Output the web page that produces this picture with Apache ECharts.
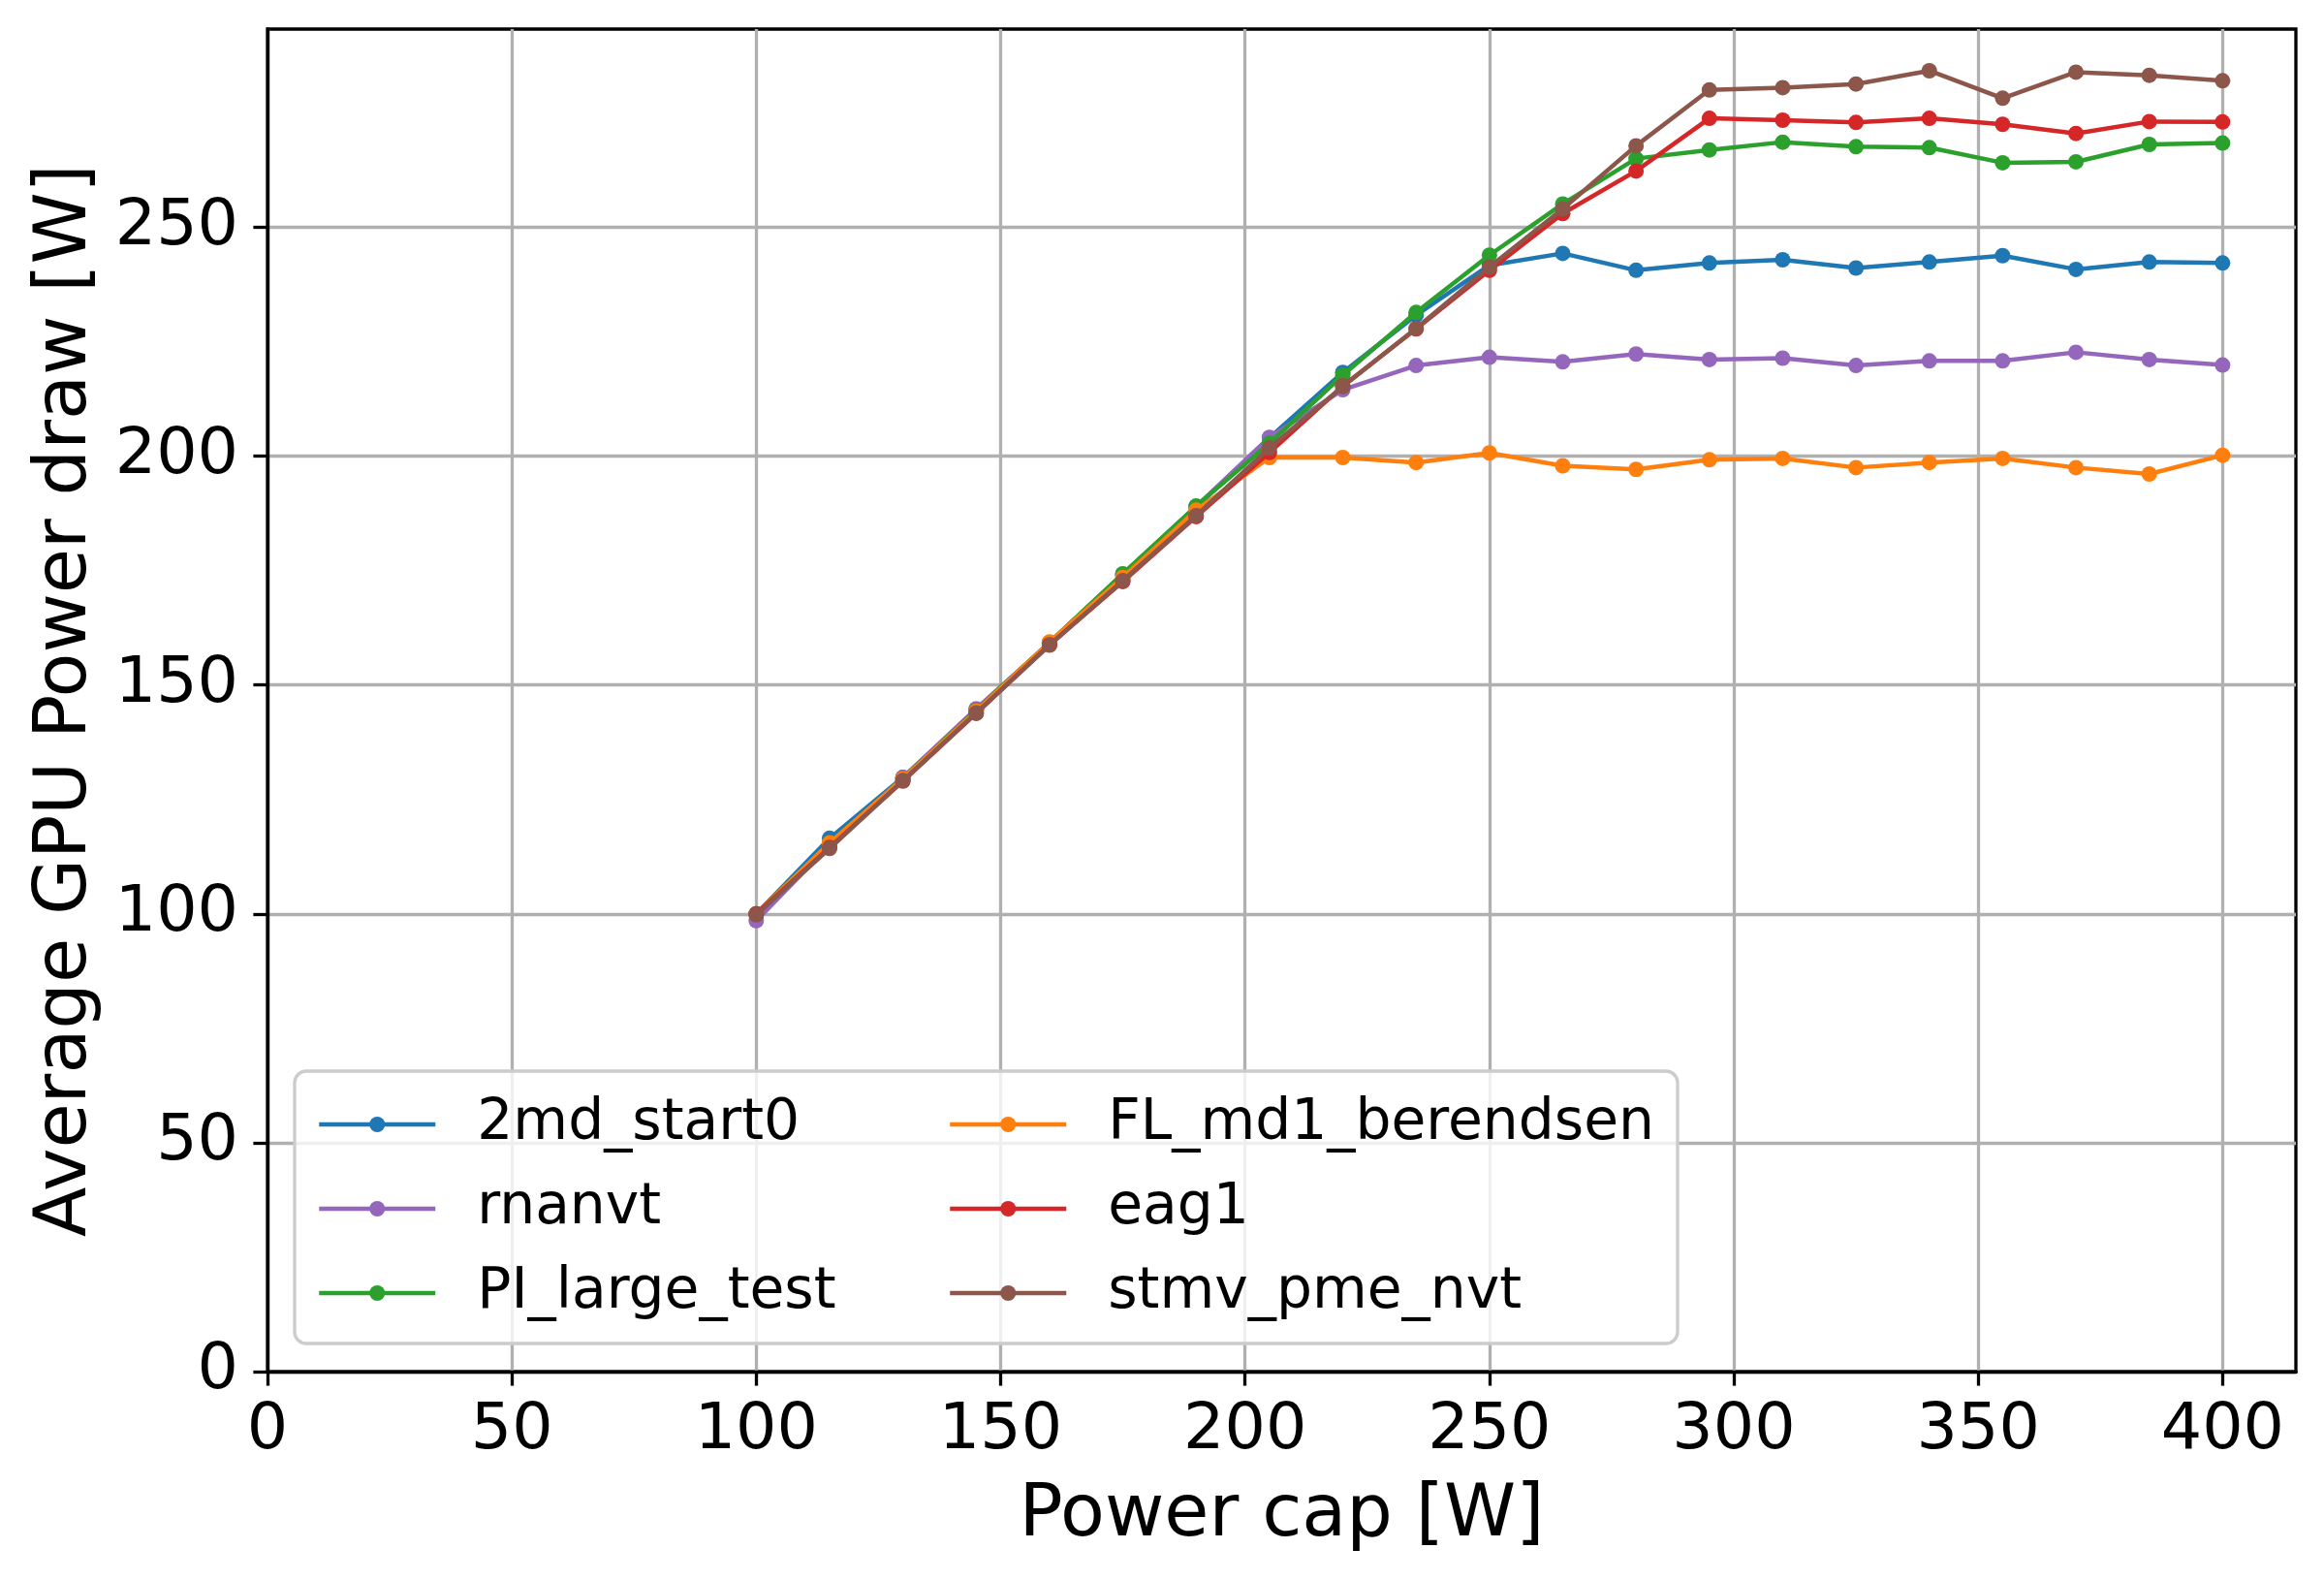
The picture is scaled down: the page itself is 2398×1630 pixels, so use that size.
<!DOCTYPE html>
<html>
<head>
<meta charset="utf-8">
<script src="https://cdn.jsdelivr.net/npm/echarts@6/dist/echarts.min.js"></script>
<style>
html, body { margin: 0; padding: 0; background: #ffffff; }
#chart { width: 2398px; height: 1630px; }
</style>
</head>
<body>
<div id="chart"></div>
<script>
// ---- data ----
const powerCap = [100, 115, 130, 145, 160, 175, 190, 205, 220, 235, 250, 265, 280, 295, 310, 325, 340, 355, 370, 385, 400];

const seriesNames = ['2md_start0', 'rnanvt', 'PI_large_test', 'FL_md1_berendsen', 'eag1', 'stmv_pme_nvt'];

const md2_start0 = [100.0, 116.5, 129.8, 144.6, 159.2, 174.2, 188.9, 204.0, 218.3, 230.8, 241.7, 244.3, 240.6, 242.2, 242.9, 241.1, 242.4, 243.8, 240.8, 242.4, 242.2];
const rnanvt = [98.5, 115.0, 129.8, 144.8, 159.2, 173.9, 189.0, 204.1, 214.5, 219.8, 221.6, 220.6, 222.3, 221.1, 221.4, 219.8, 220.8, 220.8, 222.7, 221.1, 219.9];
const PI_large_test = [100.0, 115.5, 129.5, 144.5, 159.3, 174.3, 189.1, 202.8, 217.7, 231.4, 243.9, 255.1, 265.0, 266.9, 268.6, 267.6, 267.4, 264.1, 264.3, 268.1, 268.4];
const FL_md1_berendsen = [100.0, 115.5, 129.5, 144.3, 159.4, 173.5, 188.2, 199.7, 199.7, 198.6, 200.7, 197.9, 197.1, 199.2, 199.5, 197.5, 198.6, 199.5, 197.5, 196.1, 200.2];
const eag1 = [100.0, 114.5, 129.0, 143.8, 158.8, 172.6, 186.8, 200.8, 215.3, 227.8, 240.6, 253.0, 262.3, 273.8, 273.4, 272.9, 273.8, 272.5, 270.5, 273.1, 273.0];
const stmv_pme_nvt = [99.8, 114.3, 129.1, 143.9, 158.7, 172.8, 187.0, 201.8, 215.2, 227.9, 241.3, 254.0, 267.8, 280.0, 280.5, 281.3, 284.2, 278.2, 283.9, 283.2, 282.0];

const seriesValues = [md2_start0, rnanvt, PI_large_test, FL_md1_berendsen, eag1, stmv_pme_nvt];
const seriesColors = ['#1f77b4', '#9467bd', '#2ca02c', '#ff7f0e', '#d62728', '#8c564b'];

const xTicks = [0, 50, 100, 150, 200, 250, 300, 350, 400];
const yTicks = [0, 50, 100, 150, 200, 250];

// ---- chart ----
const FONT = 'DejaVu Sans';
const LW = 4.5;
const chart = echarts.init(document.getElementById('chart'), null, { renderer: 'canvas' });

const series = seriesNames.map((name, i) => ({
  name: name,
  type: 'line',
  data: powerCap.map((x, j) => [x, seriesValues[i][j]]),
  symbol: 'circle',
  symbolSize: 16,
  showAllSymbol: true,
  color: seriesColors[i],
  lineStyle: { width: LW, color: seriesColors[i] },
  itemStyle: { color: seriesColors[i] },
  emphasis: { disabled: true },
  z: 2 + i * 0.01
}));

const legendCommon = {
  orient: 'vertical',
  top: 1131,
  padding: 0,
  itemWidth: 120,
  itemHeight: 20,
  itemGap: 29,
  selectedMode: false,
  lineStyle: { width: LW },
  textStyle: {
    fontFamily: FONT,
    fontSize: 58.3,
    lineHeight: 58,
    color: '#000000',
    padding: [0, 0, 0, 38]
  }
};

const option = {
  backgroundColor: '#ffffff',
  animation: false,
  grid: {
    left: 276,
    top: 30,
    right: 29,
    bottom: 215,
    show: true,
    borderColor: '#000000',
    borderWidth: 3.3,
    backgroundColor: 'transparent'
  },
  xAxis: {
    type: 'value',
    min: 0,
    max: 415,
    interval: 50,
    name: 'Power cap [W]',
    nameLocation: 'middle',
    nameGap: 112,
    nameTextStyle: { fontFamily: FONT, fontSize: 75, color: '#000000' },
    axisLine: { show: true, onZero: false, lineStyle: { color: '#000000', width: 3.3 } },
    axisTick: { show: true, inside: false, length: 14.6, customValues: xTicks, lineStyle: { color: '#000000', width: 3.3 } },
    axisLabel: {
      show: true,
      margin: 28,
      customValues: xTicks,
      fontFamily: FONT,
      fontSize: 66.7,
      color: '#000000',
      formatter: v => (xTicks.indexOf(v) >= 0 ? String(v) : '')
    },
    splitLine: { show: true, lineStyle: { color: '#b0b0b0', width: 3.3 } }
  },
  yAxis: {
    type: 'value',
    min: 0,
    max: 293.3,
    interval: 50,
    name: 'Average GPU Power draw [W]',
    nameLocation: 'middle',
    nameGap: 170,
    nameRotate: 90,
    nameTextStyle: { fontFamily: FONT, fontSize: 75, color: '#000000' },
    axisLine: { show: true, onZero: false, lineStyle: { color: '#000000', width: 3.3 } },
    axisTick: { show: true, inside: false, length: 14.6, customValues: yTicks, lineStyle: { color: '#000000', width: 3.3 } },
    axisLabel: {
      show: true,
      margin: 30,
      customValues: yTicks,
      fontFamily: FONT,
      fontSize: 66.7,
      color: '#000000',
      formatter: v => (yTicks.indexOf(v) >= 0 ? String(v) : '')
    },
    splitLine: { show: true, lineStyle: { color: '#b0b0b0', width: 3.3 } }
  },
  legend: [
    Object.assign({}, legendCommon, { left: 327, data: seriesNames.slice(0, 3) }),
    Object.assign({}, legendCommon, { left: 978, data: seriesNames.slice(3, 6) })
  ],
  graphic: [{
    type: 'rect',
    z: 3,
    shape: { x: 304, y: 1105, width: 1427, height: 281, r: 12 },
    style: { fill: 'rgba(255,255,255,0.8)', stroke: '#cccccc', lineWidth: 3.3 },
    silent: true
  }],
  series: series
};

chart.setOption(option);
</script>
</body>
</html>
